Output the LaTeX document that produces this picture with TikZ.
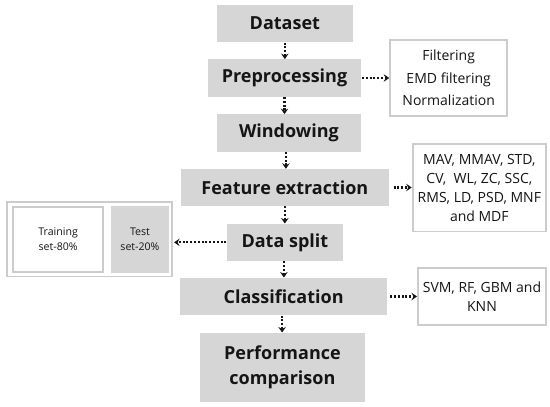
\documentclass[tikz,border=0pt]{standalone}
\usepackage{fontspec}
\setmainfont{Open Sans}
\usetikzlibrary{arrows.meta}
\definecolor{boxgray}{HTML}{D6D6D6}
\definecolor{edgegray}{HTML}{CCCCCC}
\definecolor{ink}{HTML}{151515}
\tikzset{
  mainbox/.style={fill=boxgray, inner sep=0pt, align=center, text=ink,
    font=\fontsize{18}{25}\selectfont\bfseries},
  sidebox/.style={draw=edgegray, line width=1.8pt, fill=white, inner sep=0pt, align=center, text=ink,
    font=\fontsize{14}{19}\selectfont},
  smallbox/.style={inner sep=0pt, align=center, text=ink, font=\fontsize{10.6}{14.3}\selectfont},
  arr/.style={draw=ink, line width=2.2pt, dash pattern=on 2pt off 1.8pt,
    -{Stealth[length=5.5pt,width=7.5pt,inset=2pt]}},
}
\begin{document}
\begin{tikzpicture}[x=1pt,y=-1pt]
\useasboundingbox (0,0) rectangle (550,407);
% main column
\node[mainbox, minimum width=136.3pt, minimum height=37.6pt] (ds) at (284.85,23.5) {Dataset};
\node[mainbox, minimum width=153.2pt, minimum height=37.4pt] (pre) at (284.5,78) {Preprocessing};
\node[mainbox, minimum width=144.4pt, minimum height=37.4pt] (win) at (288.9,133) {Windowing};
\node[mainbox, minimum width=207.9pt, minimum height=37pt] (fe) at (284.85,187.5) {Feature extraction};
\node[mainbox, minimum width=116.6pt, minimum height=37.3pt] (split) at (284.9,242.35) {Data split};
\node[mainbox, minimum width=207.6pt, minimum height=37.6pt] (cls) at (283.6,296.5) {Classification};
\node[mainbox, minimum width=165.8pt, minimum height=69pt] (perf) at (282.4,367.2) {Performance\\comparison};
% side boxes
\node[sidebox, minimum width=117.2pt, minimum height=75.6pt, font=\fontsize{14}{22.3}\selectfont] (filt) at (448.7,78) {Filtering\\EMD filtering\\Normalization};
\node[sidebox, minimum width=133.5pt, minimum height=87.2pt] (feat) at (479.35,187.8) {MAV, MMAV, STD,\\CV,\ \ WL, ZC, SSC,\\RMS, LD, PSD, MNF\\and MDF};
\node[sidebox, minimum width=128.2pt, minimum height=56.6pt, font=\fontsize{14}{18.7}\selectfont] (svm) at (482,296.5) {SVM, RF, GBM and\\KNN};
% split boxes
\node[draw=edgegray, line width=1.8pt, fill=white, minimum width=165.4pt, minimum height=74.5pt, inner sep=0pt] (outer) at (89.6,239.2) {};
\node[smallbox, draw=edgegray, line width=1.8pt, fill=white, minimum width=89.9pt, minimum height=65.2pt] (train) at (58.15,239.2) {Training\\set-80\%};
\node[smallbox, fill=boxgray, minimum width=58.7pt, minimum height=67pt] (test) at (139.95,239.2) {Test\\set-20\%};
% vertical arrows
\draw[arr] (ds.south) -- (ds.south |- pre.north);
\draw[arr] (pre.south) -- (pre.south |- win.north);
\draw[arr] ([xshift=-3pt]win.south) -- ([xshift=-3pt]win.south |- fe.north);
\draw[arr] (fe.south) -- (fe.south |- split.north);
\draw[arr] ([xshift=-1pt]split.south) -- ([xshift=-1pt]split.south |- cls.north);
\draw[arr] ([xshift=-1.5pt]cls.south) -- ([xshift=-1.5pt]cls.south |- perf.north);
% horizontal arrows
\draw[arr] ([xshift=0.7pt]pre.east) -- (pre.east -| filt.west);
\draw[arr] ([xshift=4.6pt]fe.east) -- (fe.east -| feat.west);
\draw[arr] (split.west) -- ([xshift=0.9pt]split.west -| outer.east);
\draw[arr] ([xshift=2.6pt]cls.east) -- (cls.east -| svm.west);
\end{tikzpicture}
\end{document}
